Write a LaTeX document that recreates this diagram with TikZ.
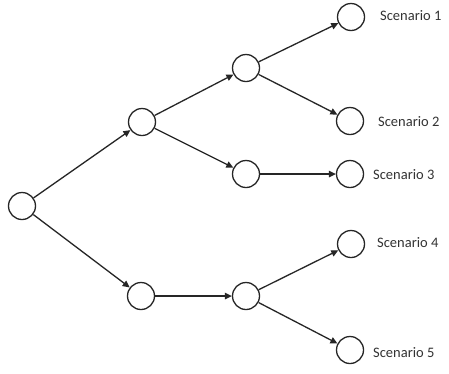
\documentclass[tikz,border=0pt]{standalone}
\usepackage{fontspec}
\setmainfont{Carlito}
\usetikzlibrary{arrows.meta}
\begin{document}
\begin{tikzpicture}[x=1pt,y=-1pt,
  stnode/.style={circle,draw=black!85,line width=1.3pt,minimum size=27pt,inner sep=0pt},
  lbl/.style={anchor=west,inner sep=0pt,font=\fontsize{14.5}{16}\selectfont,text=black!80},
  conn/.style={draw=black!85,line width=1.3pt,-{Triangle[length=7pt,width=6.5pt]}}]
\useasboundingbox[fill=white] (0,0) rectangle (449,373);
\node[stnode] (r) at (22,206) {};
\node[stnode] (a) at (142,122) {};
\node[stnode] (b) at (141,296) {};
\node[stnode] (c) at (246,68) {};
\node[stnode] (d) at (246,174) {};
\node[stnode] (e) at (246,296) {};
\node[stnode] (s1) at (351,17) {};
\node[stnode] (s2) at (350,121) {};
\node[stnode] (s3) at (350,174) {};
\node[stnode] (s4) at (351,244) {};
\node[stnode] (s5) at (350,350) {};
\node[lbl] (l1) at (380,16) {Scenario 1};
\node[lbl] (l2) at (378,122) {Scenario 2};
\node[lbl] (l3) at (373,175) {Scenario 3};
\node[lbl] (l4) at (377,243) {Scenario 4};
\node[lbl] (l5) at (373,353) {Scenario 5};
\draw[conn] (r) -- (a);
\draw[conn] (r) -- (b);
\draw[conn] (a) -- (c);
\draw[conn] (a) -- (d);
\draw[conn] (c) -- (s1);
\draw[conn] (c) -- (s2);
\draw[conn] (d) -- (s3);
\draw[conn] (b) -- (e);
\draw[conn] (e) -- (s4);
\draw[conn] (e) -- (s5);
\end{tikzpicture}
\end{document}
